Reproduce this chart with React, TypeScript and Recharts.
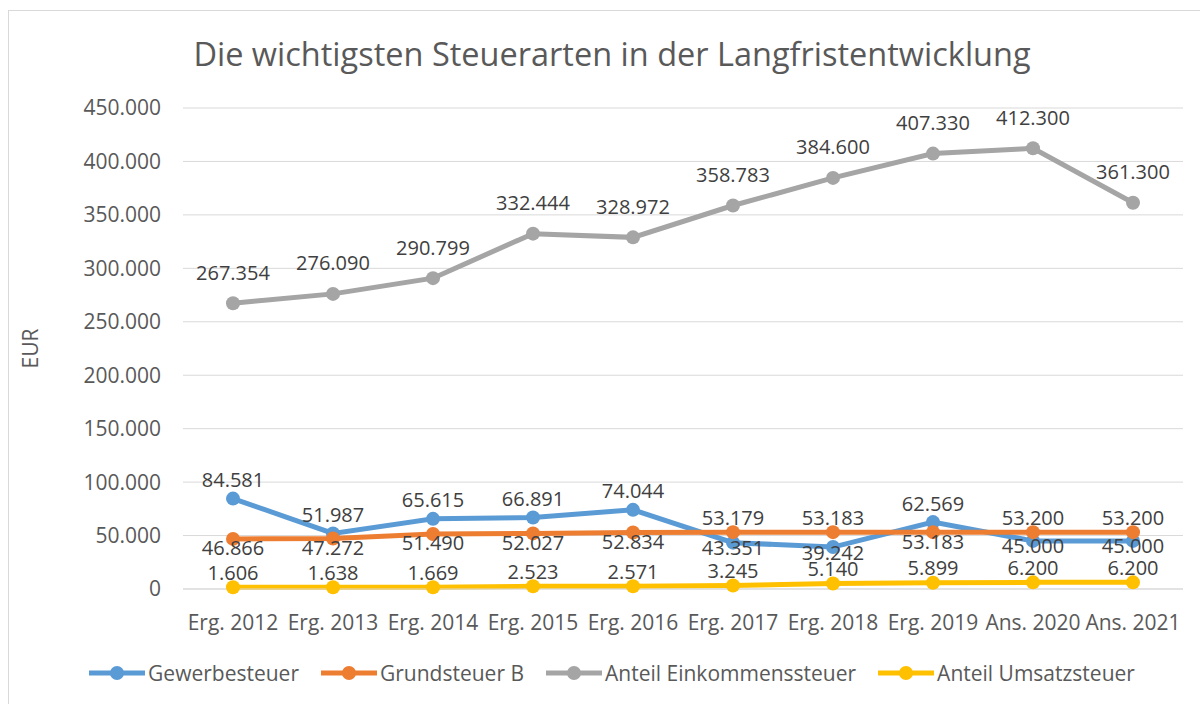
import { LineChart, Line, XAxis, YAxis, CartesianGrid, Legend, Label } from "recharts"

const FONT = "'Open Sans', sans-serif"

const CATEGORIES = [
  "Erg. 2012", "Erg. 2013", "Erg. 2014", "Erg. 2015", "Erg. 2016",
  "Erg. 2017", "Erg. 2018", "Erg. 2019", "Ans. 2020", "Ans. 2021",
]
const GEWERBE = [84581, 51987, 65615, 66891, 74044, 43351, 39242, 62569, 45000, 45000]
const GRUND_B = [46866, 47272, 51490, 52027, 52834, 53179, 53183, 53183, 53200, 53200]
const EINKOMMEN = [267354, 276090, 290799, 332444, 328972, 358783, 384600, 407330, 412300, 361300]
const UMSATZ = [1606, 1638, 1669, 2523, 2571, 3245, 5140, 5899, 6200, 6200]
const Y_TICKS = [0, 50000, 100000, 150000, 200000, 250000, 300000, 350000, 400000, 450000]

const SERIES = [
  { key: "Gewerbesteuer", color: "#5B9BD5" },
  { key: "Grundsteuer B", color: "#ED7D31" },
  { key: "Anteil Einkommenssteuer", color: "#A5A5A5" },
  { key: "Anteil Umsatzsteuer", color: "#FFC000" },
]

const data = CATEGORIES.map((name, i) => ({
  name,
  Gewerbesteuer: GEWERBE[i],
  "Grundsteuer B": GRUND_B[i],
  "Anteil Einkommenssteuer": EINKOMMEN[i],
  "Anteil Umsatzsteuer": UMSATZ[i],
}))

// 84581 -> "84.581"
const fmt = (v: number) => String(v).replace(/\B(?=(\d{3})+(?!\d))/g, ".")

// label sits above the point unless the series is the lower one of the pair
const makeLabel = (offset: (i: number) => number) => (props: any) => {
  const { x, y, value, index } = props
  return (
    <text
      x={x}
      y={y + offset(index)}
      textAnchor="middle"
      dominantBaseline="central"
      fill="#404040"
      fontSize={20}
      fontFamily={FONT}
    >
      {fmt(value)}
    </text>
  )
}

const gewerbeLabel = makeLabel((i) => (GEWERBE[i] > GRUND_B[i] ? -19 : 5))
const grundLabel = makeLabel((i) => (GRUND_B[i] > GEWERBE[i] ? -15 : 9))
const einkommenLabel = makeLabel(() => -31)
const umsatzLabel = makeLabel(() => -15)
const LABELS = [gewerbeLabel, grundLabel, einkommenLabel, umsatzLabel]

const LegendContent = () => (
  <div
    style={{
      display: "flex",
      justifyContent: "center",
      alignItems: "center",
      height: 30,
      fontFamily: FONT,
      fontSize: 21,
      color: "#595959",
    }}
  >
    {SERIES.map((s, i) => (
      <div
        key={s.key}
        style={{ display: "flex", alignItems: "center", marginLeft: i === 0 ? 0 : 22 }}
      >
        <svg width={56} height={20} style={{ marginRight: 3 }}>
          <line x1={0} y1={10} x2={56} y2={10} stroke={s.color} strokeWidth={5} />
          <circle cx={28} cy={10} r={7} fill={s.color} />
        </svg>
        <span>{s.key}</span>
      </div>
    ))}
  </div>
)

export default function App() {
  return (
    <div
      style={{
        position: "fixed",
        left: 8,
        top: 10,
        width: 1206,
        height: 700,
        borderLeft: "1px solid #d9d9d9",
        borderTop: "1px solid #d9d9d9",
        background: "#fff",
      }}
    >
      <div
        style={{
          position: "absolute",
          top: 21,
          left: 0,
          width: 1206,
          textAlign: "center",
          fontFamily: FONT,
          fontSize: 32.5,
          lineHeight: "44px",
          color: "#595959",
        }}
      >
        Die wichtigsten Steuerarten in der Langfristentwicklung
      </div>
      <LineChart
        width={1206}
        height={693}
        data={data}
        margin={{ top: 97, right: 32, bottom: 45, left: 0 }}
      >
        <CartesianGrid stroke="#d9d9d9" vertical={false} />
        <XAxis
          dataKey="name"
          padding={{ left: 50, right: 50 }}
          axisLine={{ stroke: "#d9d9d9" }}
          tickLine={false}
          tickSize={0}
          tickMargin={26}
          height={40}
          interval={0}
          tick={{ fill: "#595959", fontSize: 21, fontFamily: FONT }}
        />
        <YAxis
          width={174}
          domain={[0, 450000]}
          ticks={Y_TICKS}
          axisLine={false}
          tickLine={false}
          tickSize={0}
          tickMargin={22}
          tickFormatter={fmt}
          tick={{ fill: "#595959", fontSize: 21, fontFamily: FONT }}
        >
          <Label
            content={(p: any) => {
              const vb = p.viewBox
              const cx = 21
              const cy = vb.y + vb.height / 2
              return (
                <text
                  x={cx}
                  y={cy}
                  transform={`rotate(-90 ${cx} ${cy})`}
                  textAnchor="middle"
                  dominantBaseline="central"
                  fill="#595959"
                  fontSize={21}
                  fontFamily={FONT}
                >
                  EUR
                </text>
              )
            }}
          />
        </YAxis>
        <Legend
          verticalAlign="bottom"
          content={<LegendContent />}
          wrapperStyle={{ top: 647, left: 0, width: 1206 }}
        />
        {SERIES.map((s, i) => (
          <Line
            key={s.key}
            type="linear"
            dataKey={s.key}
            stroke={s.color}
            strokeWidth={5}
            dot={{ r: 7, fill: s.color, stroke: s.color, strokeWidth: 0 }}
            activeDot={false}
            label={LABELS[i]}
            isAnimationActive={false}
          />
        ))}
      </LineChart>
    </div>
  )
}
